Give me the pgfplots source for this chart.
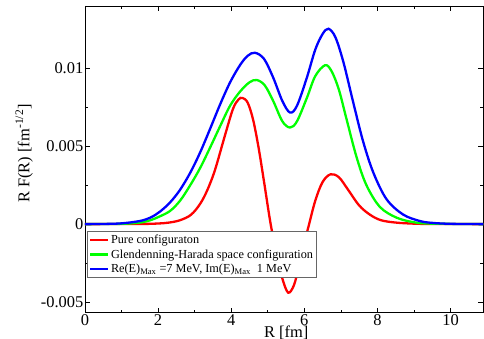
\documentclass[border=0pt]{standalone}
\usepackage{fontspec}
\setmainfont{Liberation Serif}
\usepackage{pgfplots}
\pgfplotsset{compat=1.18}
\usetikzlibrary{calc}
\begin{document}
\begin{tikzpicture}
\begin{axis}[name=ax,
  scale only axis, width=398.5bp, height=307bp,
  xmin=0, xmax=10.9, ymin=-0.0057, ymax=0.014,
  xtick={0,2,4,6,8,10}, xticklabels={0,2,4,6,8,10},
  ytick={-0.005,0,0.005,0.01}, yticklabels={-0.005,0,0.005,0.01},
  minor x tick num=1, minor y tick num=1,
  tick align=inside, major tick length=5bp, minor tick length=3bp,
  tick style={line width=0.7bp, black},
  axis line style={line width=0.9bp},
  tick label style={font=\fontsize{16.5}{18}\selectfont, inner sep=1.5bp},
  label style={font=\fontsize{16.5}{18}\selectfont},
  xlabel={R [fm]},
  ylabel={R F(R) [fm\textsuperscript{-1/2}]},
  xlabel style={yshift=5bp, xshift=2bp},
  ylabel style={yshift=3bp, xshift=6bp},
  legend style={at={(0.006,0.267)}, anchor=north west, draw=black!60, line width=0.6bp,
    font=\fontsize{12.3}{13.5}\selectfont, inner sep=1.5bp, row sep=0.6bp, cells={anchor=west}},
  legend image code/.code={\draw[#1] (0cm,0cm) -- (0.62cm,0cm);},
  every axis plot/.append style={line width=2.3bp, smooth, tension=0.55},
]
\addplot[color={rgb,1:red,1;green,0;blue,0}] coordinates {
(0,0) (1.5,0.00001) (2.0,0.00004) (2.3,0.0001) (2.6,0.00025) (2.9,0.0006) (3.15,0.0013) (3.35,0.0022)
(3.56,0.0035) (3.83,0.0057) (4.05,0.0074) (4.2,0.0080) (4.31,0.0081) (4.45,0.0078) (4.6,0.0067)
(4.75,0.0049) (4.9,0.0027) (5.08,0.0000) (5.25,-0.0020) (5.4,-0.0035) (5.56,-0.0044) (5.72,-0.0039)
(5.85,-0.0027) (6.0,-0.0012) (6.11,-0.0002) (6.3,0.0015) (6.5,0.0027) (6.72,0.0032)
(6.95,0.0030) (7.2,0.0022) (7.5,0.0012) (7.8,0.0006) (8.1,0.00025) (8.5,0.0001) (9.0,0.00003) (9.5,0.00001) (10.9,0)
};
\addlegendentry{Pure configuraton}
\addplot[color={rgb,1:red,0;green,1;blue,0}] coordinates {
(0,0) (1.0,0.00002) (1.5,0.0001) (1.79,0.00025) (2.05,0.0005) (2.33,0.00085) (2.6,0.0015) (2.88,0.0025)
(3.15,0.0036) (3.42,0.0049) (3.7,0.0063) (3.97,0.0076) (4.24,0.0085) (4.5,0.0091)
(4.70,0.00925) (4.92,0.0089) (5.15,0.0079) (5.4,0.0066) (5.61,0.0062) (5.8,0.0066)
(6.07,0.0081) (6.3,0.0095) (6.57,0.0102) (6.75,0.0098) (6.95,0.0086) (7.16,0.0067)
(7.43,0.0043) (7.7,0.0025) (8.07,0.0011) (8.52,0.00042) (9.0,0.00012) (9.5,0.00003) (10.9,0)
};
\addlegendentry{Glendenning-Harada space configuration}
\addplot[color={rgb,1:red,0;green,0;blue,1}] coordinates {
(0,0) (0.5,0.00001) (1.0,0.00005) (1.5,0.0002) (1.79,0.00042) (2.05,0.0008) (2.33,0.0014) (2.6,0.0022)
(2.88,0.0033) (3.15,0.0046) (3.42,0.0061) (3.7,0.0077) (3.97,0.0091) (4.24,0.0102)
(4.45,0.0108) (4.65,0.0110) (4.9,0.0106) (5.15,0.0094) (5.4,0.0079) (5.61,0.00716)
(5.8,0.0076) (6.07,0.0094) (6.3,0.0112) (6.5,0.0122) (6.66,0.01254) (6.85,0.0120)
(7.07,0.0104) (7.34,0.0078) (7.61,0.0053) (7.89,0.0033) (8.25,0.0016) (8.7,0.00062)
(9.16,0.0002) (9.5,0.00008) (10,0.00002) (10.9,0)
};
\addlegendentry{Re(E)\textsubscript{Max} =7 MeV, Im(E)\textsubscript{Max} \ 1 MeV}
\end{axis}
\pgfresetboundingbox
\path[use as bounding box] ($(ax.south west)+(-85bp,-26bp)$) rectangle ($(ax.north east)+(0.6bp,6bp)$);
\end{tikzpicture}
\end{document}
